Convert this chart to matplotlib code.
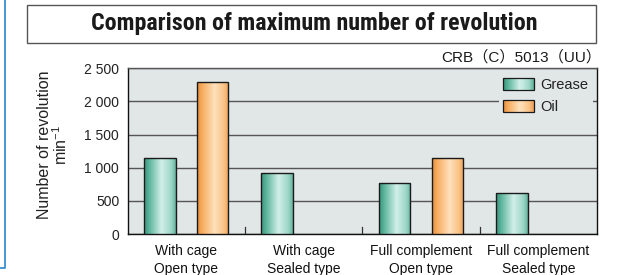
import numpy as np
import matplotlib
matplotlib.use("Agg")
import matplotlib.pyplot as plt
from matplotlib.colors import LinearSegmentedColormap
from matplotlib.patches import Rectangle, Patch
from matplotlib.lines import Line2D
from matplotlib.legend_handler import HandlerPatch

categories = ["With cage\nOpen type", "With cage\nSealed type",
              "Full complement\nOpen type", "Full complement\nSealed type"]
grease = [1150, 920, 770, 615]
oil = [2300, np.nan, 1150, np.nan]
series_names = ["Grease", "Oil"]
yticks = [0, 500, 1000, 1500, 2000, 2500]
ytick_labels = ["0", "500", "1 000", "1 500", "2 000", "2 500"]

plt.rcParams['font.family'] = ['Liberation Sans', 'Noto Sans CJK JP', 'DejaVu Sans']
plt.rcParams['mathtext.default'] = 'regular'

green_cmap = LinearSegmentedColormap.from_list("g", [
    (0.0, (0.22, 0.58, 0.48)), (0.15, (0.35, 0.70, 0.60)),
    (0.55, (0.82, 0.94, 0.91)), (0.85, (0.62, 0.84, 0.78)),
    (1.0, (0.40, 0.70, 0.62))])
orange_cmap = LinearSegmentedColormap.from_list("o", [
    (0.0, (0.90, 0.55, 0.25)), (0.15, (0.97, 0.67, 0.36)),
    (0.55, (1.0, 0.88, 0.74)), (0.85, (0.98, 0.76, 0.52)),
    (1.0, (0.93, 0.63, 0.36))])

fig = plt.figure(figsize=(6.23, 2.75), dpi=100)
ax = fig.add_axes([0.2047, 0.149, 0.7536, 0.6026])
bg = "#e1e6e6"
ax.set_facecolor(bg)

x = np.arange(len(categories))
w = 0.27
off = 0.225
grad = np.linspace(0, 1, 256).reshape(1, -1)

def grad_bars(vals, xs, cmap):
    bars = ax.bar(xs, vals, width=w, facecolor="none", edgecolor="#1a1a1a",
                  linewidth=1.0, zorder=4)
    for b in bars:
        h = b.get_height()
        if not np.isfinite(h):
            continue
        x0 = b.get_x()
        im = ax.imshow(grad, cmap=cmap, aspect="auto",
                       extent=[x0, x0 + b.get_width(), 0, h], zorder=3,
                       interpolation="bilinear")
        im.set_clip_path(b)
    return bars

grad_bars(grease, x - off, green_cmap)
grad_bars(oil, x + off, orange_cmap)

ax.set_xlim(-0.5, len(categories) - 0.5)
ax.set_ylim(0, 2500)
ax.set_yticks(yticks)
ax.set_yticklabels(ytick_labels, fontsize=10, color="#222222")
ax.tick_params(axis="y", length=0, pad=6)
ax.set_xticks(x)
ax.set_xticklabels(categories, fontsize=10, color="#111111", linespacing=1.38)
ax.tick_params(axis="x", length=0, pad=7)
ax.yaxis.grid(True, color="#555555", linewidth=1.0, zorder=1)
ax.set_axisbelow(True)

# group separator ticks
for xb in x[:-1] + 0.5:
    ax.plot([xb, xb], [0, 110], color="#333333", linewidth=0.9, zorder=2)

for s in ["left", "bottom", "right"]:
    ax.spines[s].set_color("#111111")
    ax.spines[s].set_linewidth(1.0)
ax.spines["top"].set_color("#555555")
ax.spines["top"].set_linewidth(1.0)

ax.set_ylabel("Number of revolution\nmin$^{-1}$", fontsize=11.5,
              color="#222222", linespacing=0.95)
ax.yaxis.set_label_coords(-0.1225, 0.54)

class GradHandler(HandlerPatch):
    def __init__(self, cmap):
        super().__init__()
        self.cmap = cmap
    def create_artists(self, legend, orig_handle, xdescent, ydescent,
                       width, height, fontsize, trans):
        arts = []
        n = 30
        for i in range(n):
            r = Rectangle((-xdescent + width * i / n, -ydescent), width / n + 0.3,
                          height, facecolor=self.cmap(i / (n - 1)),
                          edgecolor="none", transform=trans)
            arts.append(r)
        border = Rectangle((-xdescent, -ydescent), width, height,
                           facecolor="none", edgecolor="#1a1a1a", linewidth=0.9,
                           transform=trans)
        arts.append(border)
        return arts

h1 = Patch(label=series_names[0])
h2 = Patch(label=series_names[1])
leg = ax.legend([h1, h2], series_names, loc="upper right",
                bbox_to_anchor=(0.997, 0.985), frameon=True, fontsize=10.5,
                handlelength=2.1, handleheight=0.85, handletextpad=0.45,
                labelspacing=0.55, borderpad=0.3, borderaxespad=0.2,
                handler_map={h1: GradHandler(green_cmap), h2: GradHandler(orange_cmap)})
leg.get_frame().set_facecolor(bg)
leg.get_frame().set_edgecolor("none")
leg.get_frame().set_alpha(1.0)
leg.set_zorder(6)
for t in leg.get_texts():
    t.set_color("#222222")

# title box
fig.patches.append(Rectangle((27 / 623, 1 - 43 / 275), (596 - 27) / 623, 38 / 275,
                             transform=fig.transFigure, facecolor="white",
                             edgecolor="#555555", linewidth=1.0))
fig.text(314 / 623, 1 - 23.5 / 275, "Comparison of maximum number of revolution",
         ha="center", va="center", fontsize=17.3, fontweight="bold",
         family=["Roboto Condensed", "Liberation Sans Narrow", "Open Sans Condensed",
                 "Roboto", "DejaVu Sans"], color="#1a1a1a")

fig.text(601 / 623, 1 - 57 / 275, "CRB（C）5013（UU）", ha="right", va="center",
         fontsize=11, color="#1a1a1a")

# left blue bracket
fig.lines.append(Line2D([5 / 623, 5 / 623, 0], [1, 1 - 268 / 275, 1 - 268 / 275],
                        transform=fig.transFigure, color="#3a8fd0", linewidth=1.3))

fig.savefig("out.png", dpi=100)
